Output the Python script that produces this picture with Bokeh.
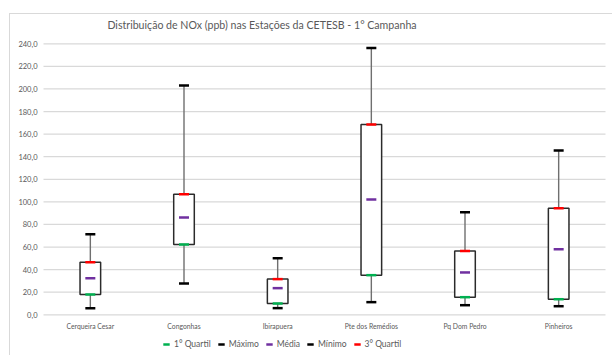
from bokeh.plotting import figure
from bokeh.models import Range1d, Legend, LegendItem, Label
from bokeh.core.properties import value
from bokeh.embed import file_html
from bokeh.resources import INLINE

# NOx (ppb) statistics per CETESB station, 1st campaign
stations = ["Cerqueira Cesar", "Congonhas", "Ibirapuera", "Pte dos Remédios", "Pq Dom Pedro", "Pinheiros"]
minimo = [5.9, 27.7, 5.9, 11.2, 8.5, 7.6]
quartil1 = [18.0, 62.3, 10.0, 35.1, 15.6, 13.8]
media = [32.4, 86.2, 23.6, 102.1, 37.5, 58.1]
quartil3 = [46.6, 106.8, 31.6, 168.6, 56.4, 94.4]
maximo = [71.4, 203.0, 50.1, 236.2, 90.9, 145.5]

y_ticks = [0, 20, 40, 60, 80, 100, 120, 140, 160, 180, 200, 220, 240]
y_tick_labels = ["0,0", "20,0", "40,0", "60,0", "80,0", "100,0", "120,0",
                 "140,0", "160,0", "180,0", "200,0", "220,0", "240,0"]
title_text = "Distribuição de NOx (ppb) nas Estações da CETESB - 1° Campanha"
legend_labels = ["1° Quartil", "Máximo", "Média", "Mínimo", "3° Quartil"]

FONT = "Lato"
TXT = "#595959"
GRID = "#d9d9d9"

# canvas size and plot-area edges in pixels; the frame fills the whole canvas
W, H = 603, 342
PLOT_L, PLOT_R, PLOT_T, PLOT_B = 33, 595, 29.3, 300.3
n = len(stations)
y_top = y_ticks[-1]
ppx = (PLOT_R - PLOT_L) / n
ppy = (PLOT_B - PLOT_T) / y_top
xs = [i + 0.5 for i in range(n)]

p = figure(width=W, height=H,
           x_range=Range1d(-PLOT_L / ppx, n + (W - PLOT_R) / ppx),
           y_range=Range1d(-(H - PLOT_B) / ppy, y_top + PLOT_T / ppy),
           x_axis_location=None, y_axis_location=None,
           output_backend="svg", toolbar_location=None,
           min_border=0)
# chart area inset from the page corner, framed by a thin grey rule
p.margin = (13, 0, 0, 9)
p.styles = {"border-top": "1px solid #d9d9d9", "border-left": "1px solid #d9d9d9"}
p.outline_line_color = None
p.background_fill_color = "white"
p.border_fill_color = "white"
p.grid.visible = False

# horizontal gridlines and tick labels
p.segment(x0=[0] * len(y_ticks), x1=[n] * len(y_ticks), y0=y_ticks, y1=y_ticks,
          line_color=GRID, line_width=1.3)
p.text(x=[0] * len(y_ticks), y=y_ticks, text=y_tick_labels, x_offset=-6,
       text_align="right", text_baseline="middle",
       text_font=value(FONT), text_font_size="7.5px", text_color=TXT)
p.text(x=xs, y=[0] * n, text=stations, y_offset=11,
       text_align="center", text_baseline="middle",
       text_font=value(FONT), text_font_size="6.8px", text_color=TXT)

# whiskers
p.segment(x0=xs, y0=minimo, x1=xs, y1=quartil1, line_color="#6f6f6f", line_width=1.4)
p.segment(x0=xs, y0=quartil3, x1=xs, y1=maximo, line_color="#6f6f6f", line_width=1.4)

# boxes
p.vbar(x=xs, bottom=quartil1, top=quartil3, width=0.22,
       fill_color="white", line_color="#2b2b2b", line_width=1.5)

# statistic markers (also used as legend keys)
stat_colors = ["#00b050", "#000000", "#7030a0", "#000000", "#ff0000"]
stat_values = [quartil1, maximo, media, minimo, quartil3]
markers = [p.scatter(x=xs, y=vals, marker="dash", size=10, line_width=2.5, line_color=col)
           for vals, col in zip(stat_values, stat_colors)]

legend = Legend(items=[LegendItem(label=lbl, renderers=[r]) for lbl, r in zip(legend_labels, markers)],
                orientation="horizontal", location=(148, 4),
                label_text_font=FONT, label_text_font_size="8.5px", label_text_color=TXT,
                glyph_width=16, glyph_height=16, label_height=16, label_standoff=-3,
                spacing=2, padding=0, margin=0,
                border_line_color=None, background_fill_alpha=0)
p.add_layout(legend, "center")

# chart title
p.add_layout(Label(x=251.5, y=H - 10, x_units="screen", y_units="screen", text=title_text,
                   text_align="center", text_baseline="middle",
                   text_font=FONT, text_font_size="10.6px", text_color=TXT))

open("out.html", "w").write(file_html(p, INLINE))
